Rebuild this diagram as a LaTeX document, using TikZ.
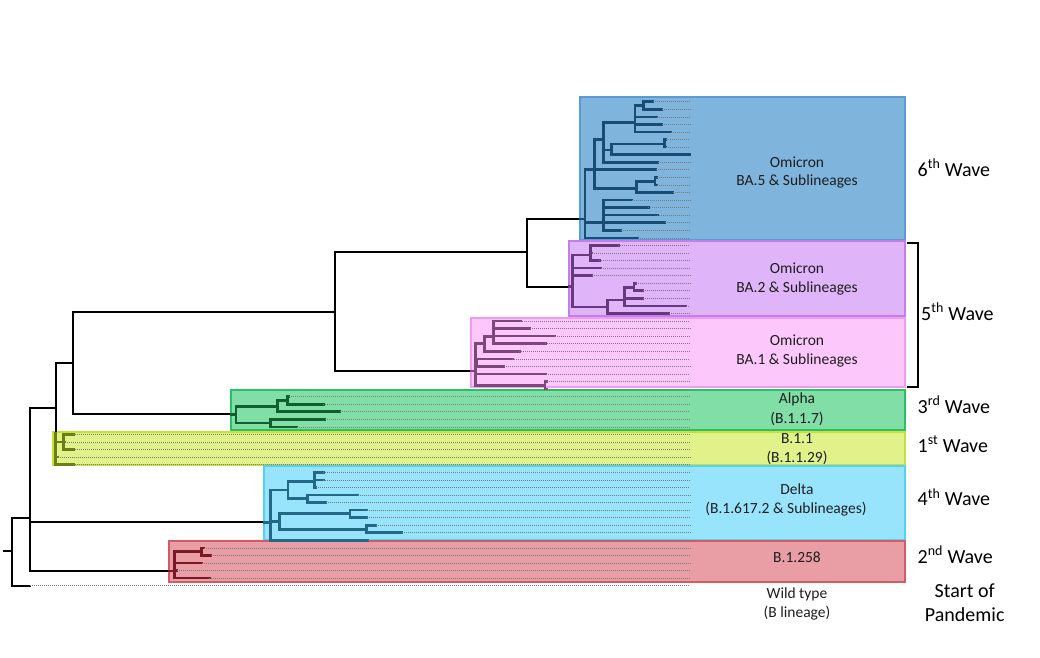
\documentclass[tikz,border=0pt]{standalone}
\usepackage{fontspec}
\setmainfont{Carlito}
\definecolor{fillA}{HTML}{7FB5DD}\definecolor{edgeA}{HTML}{5B9BD5}\definecolor{treeA}{HTML}{1A4B73}
\definecolor{fillB}{HTML}{E0B4F8}\definecolor{edgeB}{HTML}{C27FE8}\definecolor{treeB}{HTML}{68377E}
\definecolor{fillC}{HTML}{FCC8FC}\definecolor{edgeC}{HTML}{F09AF0}\definecolor{treeC}{HTML}{7D467D}
\definecolor{fillD}{HTML}{80DEA6}\definecolor{edgeD}{HTML}{2CBF66}\definecolor{treeD}{HTML}{0F5F2D}
\definecolor{fillE}{HTML}{E2F28A}\definecolor{edgeE}{HTML}{C6E03C}\definecolor{treeE}{HTML}{6E7D14}
\definecolor{fillF}{HTML}{99E4FD}\definecolor{edgeF}{HTML}{55D0F2}\definecolor{treeF}{HTML}{236987}
\definecolor{fillG}{HTML}{E99DA5}\definecolor{edgeG}{HTML}{D55A68}\definecolor{treeG}{HTML}{781923}
\definecolor{txt}{HTML}{1E1E1E}
\definecolor{dotgrey}{HTML}{7A7A7A}
\newcommand\vbr[3]{\draw (#1,{#2}) -- (#1,{#3});}
\newcommand\hbr[3]{\draw (#1,{#3}) -- (#2,{#3});}
\newcommand\lf[3]{\draw (#1,{ly(#2)}) -- (#3,{ly(#2)}); \draw[leafline] (#3,{ly(#2)}) -- (690,{ly(#2)});}
\begin{document}
\begin{tikzpicture}[x=1pt,y=-1pt,
  declare function={ly(\k)=101.7+7.5625*\k;},
  boxstyle/.style={line width=1.2pt},
  bk/.style={line width=2.2pt,draw=black,line cap=rect},
  tree/.style={line width=2.6pt,draw=#1,line cap=rect},
  leafline/.style={line width=0.6pt,draw=dotgrey,line cap=butt,dash pattern=on 1pt off 1pt},
  lab/.style={font=\fontsize{15.5}{18.5}\selectfont,text=txt,anchor=base,inner sep=0pt},
  wave/.style={font=\fontsize{20}{24}\selectfont,text=black,anchor=base west,inner sep=0pt},
]
\useasboundingbox (0,0) rectangle (1040,657);
% ---- clade boxes
\draw[boxstyle,fill=fillA,draw=edgeA] (580,97) rectangle (905,240);
\draw[boxstyle,fill=fillB,draw=edgeB] (569,241) rectangle (905,316);
\draw[boxstyle,fill=fillC,draw=edgeC] (471,318) rectangle (905,387);
\draw[boxstyle,fill=fillD,draw=edgeD] (231,390) rectangle (905,430);
\draw[boxstyle,fill=fillE,draw=edgeE] (53,432) rectangle (905,465);
\draw[boxstyle,fill=fillF,draw=edgeF] (264,466) rectangle (905,540);
\draw[boxstyle,fill=fillG,draw=edgeG] (169,541) rectangle (905,582);
% ---- backbone
\begin{scope}[bk]
\draw (4,551) -- (12,551);
\vbr{12}{517.7}{585.7}
\hbr{12}{30}{517.7}
\hbr{12}{30}{585.7}
\vbr{30}{407.7}{571}
\hbr{30}{169}{571}
\hbr{30}{264}{522.3}
\hbr{30}{55.7}{407.7}
\vbr{55.7}{363}{433}
\hbr{55.7}{73}{363}
\vbr{73}{312}{414.3}
\hbr{73}{335}{312}
\hbr{73}{231}{414.3}
\vbr{335}{252.3}{371}
\hbr{335}{527}{252.3}
\hbr{335}{471}{371}
\vbr{527}{219}{286.7}
\hbr{527}{580}{219}
\hbr{527}{569}{286.7}
\end{scope}
\draw[leafline] (30,{ly(64)}) -- (690,{ly(64)});
% ---- BA.5
\begin{scope}[tree=treeA]
\hbr{580}{585}{219}
\vbr{585}{170}{ly(18)}
\hbr{585}{594.3}{170}
\vbr{594.3}{139.3}{188.3}
\hbr{594.3}{603.3}{139.3}
\vbr{603.3}{122.7}{ly(8)}
\hbr{603.3}{635}{122.7}
\vbr{635}{105.5}{ly(4)}
\hbr{635}{643.3}{105.5}
\vbr{643.3}{ly(0)}{ly(1)}
\lf{643.3}{0}{652.7}
\lf{643.3}{1}{661.7}
\lf{635}{2}{656.7}
\lf{635}{3}{661.7}
\lf{635}{4}{670.7}
\hbr{603.3}{611.7}{150}
\vbr{611.7}{143.8}{ly(7)}
\hbr{611.7}{664.3}{143.8}
\vbr{664.3}{ly(5)}{ly(6)}
\lf{664.3}{5}{666}
\lf{664.3}{6}{666}
\lf{611.7}{7}{690}
\lf{603.3}{8}{657.7}
\lf{585}{9}{656}
\hbr{594.3}{636.7}{188.3}
\vbr{636.7}{181.7}{ly(12)}
\hbr{636.7}{655}{181.7}
\vbr{655}{ly(10)}{ly(11)}
\lf{655}{10}{657}
\lf{655}{11}{657}
\lf{636.7}{12}{672.7}
\vbr{603.3}{ly(13)}{ly(17)}
\hbr{585}{603.3}{ly(16)}
\lf{603.3}{13}{631.7}
\lf{603.3}{14}{648.3}
\lf{603.3}{15}{657.3}
\lf{603.3}{16}{665}
\lf{603.3}{17}{620.7}
\lf{585}{18}{638}
\end{scope}
% ---- BA.2
\begin{scope}[tree=treeB]
\hbr{569}{572.7}{286.7}
\vbr{572.7}{255}{307}
\hbr{572.7}{590.7}{255}
\vbr{590.7}{ly(19)}{ly(21)}
\lf{590.7}{19}{618.3}
\lf{590.7}{20}{592}
\lf{590.7}{21}{599.3}
\lf{572.7}{22}{600.7}
\lf{572.7}{23}{591.7}
\hbr{572.7}{607.7}{307}
\vbr{607.7}{300}{ly(28)}
\hbr{607.7}{624.3}{300}
\vbr{624.3}{287.3}{ly(27)}
\hbr{624.3}{634}{287.3}
\vbr{634}{ly(24)}{ly(25)}
\lf{634}{24}{635.5}
\lf{634}{25}{642.7}
\lf{624.3}{26}{642.7}
\lf{624.3}{27}{686}
\lf{607.7}{28}{669}
\end{scope}
% ---- BA.1
\begin{scope}[tree=treeC]
\hbr{471}{475.7}{371}
\vbr{475.7}{343.3}{385.3}
\hbr{475.7}{484.3}{343.3}
\vbr{484.3}{336.7}{ly(33)}
\hbr{484.3}{493.3}{336.7}
\vbr{493.3}{ly(29)}{ly(32)}
\lf{493.3}{29}{520.3}
\lf{493.3}{30}{529.7}
\lf{493.3}{31}{555}
\lf{493.3}{32}{545.3}
\lf{484.3}{33}{519.3}
\hbr{475.7}{477}{362.6}
\vbr{477}{ly(34)}{ly(35)}
\lf{477}{34}{512.3}
\lf{477}{35}{503.7}
\lf{475.7}{36}{546}
\hbr{475.7}{545}{385.3}
\vbr{545}{ly(37)}{ly(38)}
\lf{545}{37}{546.5}
\lf{545}{38}{546.5}
\end{scope}
% ---- Alpha
\begin{scope}[tree=treeD]
\hbr{231}{236}{414.3}
\vbr{236}{406.7}{423}
\hbr{236}{277.7}{406.7}
\vbr{277.7}{400.4}{ly(41)}
\hbr{277.7}{287.3}{400.4}
\vbr{287.3}{ly(39)}{ly(40)}
\lf{287.3}{39}{289}
\lf{287.3}{40}{323.3}
\lf{277.7}{41}{340}
\hbr{236}{270.7}{423}
\vbr{270.7}{ly(42)}{ly(43)}
\lf{270.7}{42}{325}
\lf{270.7}{43}{296.7}
\end{scope}
% ---- B.1.1
\begin{scope}[tree=treeE]
\vbr{55.7}{433}{ly(48)}
\hbr{55.7}{63.3}{442}
\vbr{63.3}{ly(44)}{ly(46)}
\lf{63.3}{44}{73.3}
\lf{63.3}{45}{65}
\lf{63.3}{46}{73.3}
\lf{55.7}{47}{57.5}
\lf{55.7}{48}{73.3}
\end{scope}
% ---- Delta
\begin{scope}[tree=treeF]
\hbr{264}{270.7}{522.3}
\vbr{270.7}{490}{ly(58)}
\hbr{270.7}{288}{490}
\vbr{288}{481.7}{498.7}
\hbr{288}{314.3}{481.7}
\vbr{314.3}{ly(49)}{ly(51)}
\lf{314.3}{49}{323.3}
\lf{314.3}{50}{323.3}
\lf{314.3}{51}{316}
\hbr{288}{307.7}{498.7}
\vbr{307.7}{ly(52)}{ly(53)}
\lf{307.7}{52}{357.7}
\lf{307.7}{53}{325.7}
\hbr{270.7}{279.3}{521.7}
\vbr{279.3}{513.3}{529.3}
\hbr{279.3}{350}{513.3}
\vbr{350}{ly(54)}{ly(55)}
\lf{350}{54}{366.7}
\lf{350}{55}{366.7}
\hbr{279.3}{366.7}{529.3}
\vbr{366.7}{ly(56)}{ly(57)}
\lf{366.7}{56}{375.7}
\lf{366.7}{57}{401.7}
\lf{270.7}{58}{367.7}
\end{scope}
% ---- B.1.258
\begin{scope}[tree=treeG]
\hbr{169}{174.7}{571}
\vbr{174.7}{551.7}{ly(63)}
\hbr{174.7}{201.7}{551.7}
\vbr{201.7}{ly(59)}{ly(60)}
\lf{201.7}{59}{203.5}
\lf{201.7}{60}{210.7}
\lf{174.7}{61}{201.7}
\lf{174.7}{62}{176.5}
\lf{174.7}{63}{209.3}
\end{scope}
% ---- box labels
\node[lab] (l5a) at (797,167.3) {Omicron};
\node[lab] (l5b) at (797,185.7) {BA.5 \& Sublineages};
\node[lab] (l2a) at (797,273.3) {Omicron};
\node[lab] (l2b) at (797,292.7) {BA.2 \& Sublineages};
\node[lab] (l1a) at (797,345) {Omicron};
\node[lab] (l1b) at (797,364.3) {BA.1 \& Sublineages};
\node[lab] (laa) at (797,403.7) {Alpha};
\node[lab] (lab2) at (797,423) {(B.1.1.7)};
\node[lab] (lya) at (797,443.3) {B.1.1};
\node[lab] (lyb) at (797,462.7) {(B.1.1.29)};
\node[lab] (lda) at (797,494.3) {Delta};
\node[lab] (ldb) at (786,513.7) {(B.1.617.2 \& Sublineages)};
\node[lab] (lra) at (797,562.7) {B.1.258};
\node[lab] (lwa) at (797,598.3) {Wild type};
\node[lab] (lwb) at (797,617.7) {(B lineage)};
% ---- bracket
\draw[line width=1.2pt,line join=miter] (907,243) -- (918,243) -- (918,387) -- (907,387);
% ---- wave labels
\node[wave] (w6) at (917.5,176) {6\textsuperscript{th} Wave};
\node[wave] (w5) at (921,320) {5\textsuperscript{th} Wave};
\node[wave] (w3) at (917.5,413.3) {3\textsuperscript{rd} Wave};
\node[wave] (w1) at (917.5,452.3) {1\textsuperscript{st} Wave};
\node[wave] (w4) at (917.5,505.7) {4\textsuperscript{th} Wave};
\node[wave] (w2) at (917.5,563) {2\textsuperscript{nd} Wave};
\node[wave,anchor=base] (ws) at (964.7,597.7) {Start of};
\node[wave,anchor=base] (wp) at (964.7,621) {Pandemic};
\end{tikzpicture}
\end{document}
